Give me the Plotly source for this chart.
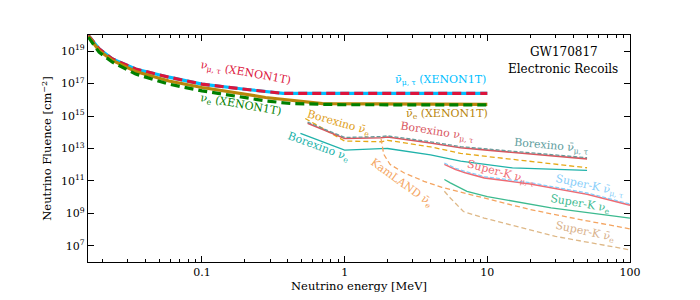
import math
import plotly.graph_objects as go

# ---------------- data (energies in MeV, fluence in cm^-2) ----------------
xe_E = [0.016, 0.019, 0.0236, 0.0343, 0.0587, 0.1, 0.2, 0.28, 0.37, 10]
xe_numt = [9.3e19, 1.4e19, 3.3e18, 7.9e17, 2.5e17, 9.3e16, 4.5e16, 3.2e16, 2.5e16, 2.5e16]
xe_nubarmt = [9.3e19, 1.4e19, 3.3e18, 7.9e17, 2.5e17, 9.3e16, 4.5e16, 3.2e16, 2.5e16, 2.5e16]

xe_e_E = [0.016, 0.019, 0.0236, 0.0343, 0.0587, 0.1, 0.279, 0.42, 1.0, 10]
xe_nue = [7.4e19, 8.7e18, 2.1e18, 3.9e17, 9.3e16, 3.6e16, 8.7e15, 5.9e15, 5.0e15, 4.9e15]

xe_eb_E = [0.016, 0.019, 0.0236, 0.0343, 0.0587, 0.1, 0.279, 0.49, 0.7, 10]
xe_nuebar = [8.3e19, 1.1e19, 2.7e18, 5.6e17, 1.45e17, 5.8e16, 1.4e16, 7.8e15, 5.9e15, 5.2e15]

bx_mt_E = [0.55, 1.0, 1.8, 2.0, 4.0, 6.5, 10, 50]
bx_numt = [3.6e14, 4.1e13, 4.6e13, 5.1e13, 2.2e13, 1.1e13, 7.9e12, 2.3e12]
bx_nubarmt = [4.2e14, 4.8e13, 5.4e13, 6.0e13, 2.6e13, 1.3e13, 9.3e12, 2.7e12]

bx_eb_E = [0.53, 1.0, 1.8, 2.0, 4.0, 6.5, 10, 50]
bx_nuebar = [7.1e14, 2.9e13, 2.6e13, 3.2e13, 1.26e13, 5.0e12, 3.2e12, 6.5e11]

bx_e_E = [0.49, 1.0, 1.8, 2.0, 4.0, 6.5, 10, 15, 50]
bx_nue = [8.7e13, 7.9e12, 9.8e12, 1.0e13, 4.1e12, 1.66e12, 1.0e12, 6.3e11, 4.5e11]

kl_E = [1.8, 1.88, 2.08, 2.6, 3.6, 4.8, 10.5, 20, 45, 100]
kl_nuebar = [4.0e13, 4.4e12, 1.05e12, 3.2e11, 9.5e10, 4.0e10, 7.1e9, 1.7e9, 4.1e8, 1.1e8]

sk_mt_E = [5, 6, 7, 9.5, 20, 50, 100]
sk_numt = [1.05e12, 5.0e11, 3.2e11, 1.55e11, 6.5e10, 1.5e10, 3.2e9]
sk_nubarmt = [1.26e12, 6.0e11, 3.8e11, 1.86e11, 7.8e10, 1.8e10, 3.8e9]

sk_e_E = [5, 5.5, 7.2, 10, 28, 100]
sk_nue = [1.23e11, 7.6e10, 2.3e10, 1.07e10, 2.2e9, 5.1e8]

sk_eb_E = [5, 5.5, 6.8, 9.5, 30, 100]
sk_nuebar = [2.3e10, 8.9e9, 1.3e9, 5.1e8, 3.8e7, 5.6e6]

x_tick_vals = [0.1, 1, 10, 100]
x_tick_text = ["0.1", "1", "10", "100"]
y_tick_exps = [7, 9, 11, 13, 15, 17, 19]

FONT = "DejaVu Serif"

fig = go.Figure()

def add(x, y, color, width, dash="solid"):
    fig.add_trace(go.Scatter(x=x, y=y, mode="lines", showlegend=False,
                             line=dict(color=color, width=width, dash=dash),
                             hoverinfo="skip"))

# XENON1T curves (solid underneath, dashed on top)
add(xe_E, xe_nubarmt, "#00bfff", 3.2)
add(xe_E, xe_numt, "#dc143c", 3.2, "9px,5px")
add(xe_eb_E, xe_nuebar, "#b8860b", 3.2)
add(xe_e_E, xe_nue, "#008000", 3.2, "9px,5px")

# Borexino
add(bx_e_E, bx_nue, "#20b2aa", 1.3)
add(bx_eb_E, bx_nuebar, "#e6a817", 1.3, "5px,3px")
add(bx_mt_E, bx_numt, "#d9575f", 1.6)
add(bx_mt_E, bx_nubarmt, "#6a9a9a", 1.3, "4px,2px")

# KamLAND
add(kl_E, kl_nuebar, "#f4a460", 1.3, "5px,3px")

# Super-K
add(sk_eb_E, sk_nuebar, "#deb887", 1.3, "5px,3px")
add(sk_e_E, sk_nue, "#3cba8f", 1.3)
add(sk_mt_E, sk_numt, "#ef6b73", 1.6)
add(sk_mt_E, sk_nubarmt, "#87cefa", 1.3, "4px,2px")

# minor ticks for x
x_minor = [m * 10 ** d for d in (-2, -1, 0, 1) for m in range(2, 10)]
x_minor = [v for v in x_minor if 0.0159 <= v <= 100]

fig.update_xaxes(
    type="log", range=[math.log10(0.0159), 2], automargin=False,
    tickmode="array", tickvals=x_tick_vals, ticktext=x_tick_text,
    ticks="inside", ticklen=6, tickwidth=1, tickcolor="black",
    showline=True, linecolor="black", linewidth=1.2, mirror="allticks",
    showgrid=False, zeroline=False,
    minor=dict(tickmode="array", tickvals=x_minor, ticks="inside", ticklen=3,
               tickcolor="black", tickwidth=0.8, showgrid=False),
    tickfont=dict(family=FONT, size=11, color="black"),
    title=dict(text="Neutrino energy [MeV]", font=dict(family=FONT, size=11.5, color="black"),
               standoff=2),
)
fig.update_yaxes(
    type="log", range=[6, 20], automargin=False,
    tickmode="array", tickvals=[10.0 ** e for e in y_tick_exps],
    ticktext=["10<sup>%d</sup>" % e for e in y_tick_exps],
    ticks="inside", ticklen=6, tickwidth=1, tickcolor="black",
    showline=True, linecolor="black", linewidth=1.2, mirror="allticks",
    showgrid=False, zeroline=False,
    tickfont=dict(family=FONT, size=11, color="black"),
    title=dict(text="Neutrino Fluence [cm<sup>−2</sup>]", font=dict(family=FONT, size=11.5, color="black"),
               standoff=6),
)

labels = [
    ("ν<sub>μ, τ</sub> (XENON1T)", 245, 74, 10, "#dc143c"),
    ("ν<sub>e</sub> (XENON1T)", 240, 106, 10, "#008000"),
    ("ν̄<sub>μ, τ</sub> (XENON1T)", 440, 81, 0, "#00bfff"),
    ("ν̄<sub>e</sub> (XENON1T)", 446, 115, 0, "#b8860b"),
    ("GW170817", 563, 53, 0, "black"),
    ("Electronic Recoils", 562, 70, 0, "black"),
    ("Borexino ν̄<sub>e</sub>", 338, 124, 16, "#e0a020"),
    ("Borexino ν<sub>μ, τ</sub>", 436, 133, 9, "#d9575f"),
    ("Borexino ν̄<sub>μ, τ</sub>", 550, 147, 5, "#5f9ea0"),
    ("Borexino ν<sub>e</sub>", 318, 148, 20, "#20b2aa"),
    ("KamLAND ν̄<sub>e</sub>", 401, 183, 36, "#f4a460"),
    ("Super-K ν<sub>μ, τ</sub>", 500, 174, 15, "#ef6b73"),
    ("Super-K ν̄<sub>μ, τ</sub>", 589, 186, 12, "#87cefa"),
    ("Super-K ν<sub>e</sub>", 580, 204, 10, "#3cba8f"),
    ("Super-K ν̄<sub>e</sub>", 585, 232, 12, "#d8b08a"),
]

def px_to_data(px, py):
    lx = -1 + (px - 201.3) / 142.7
    ly = 19 - (py - 52.3) / 16.14
    return lx, ly

for text, px, py, ang, col in labels:
    lx, ly = px_to_data(px, py)
    fig.add_annotation(x=lx, y=ly, xref="x", yref="y", text=text, showarrow=False,
                       textangle=ang, font=dict(family=FONT, size=11 if col != "black" else 12, color=col),
                       xanchor="center", yanchor="middle")

# page body has an 8px margin: shrink the figure so the plot area matches
fig.update_layout(
    width=692, height=292,
    margin=dict(l=80, r=70, t=27, b=38),
    paper_bgcolor="white", plot_bgcolor="white",
    showlegend=False,
)

fig.write_html("out.html")
